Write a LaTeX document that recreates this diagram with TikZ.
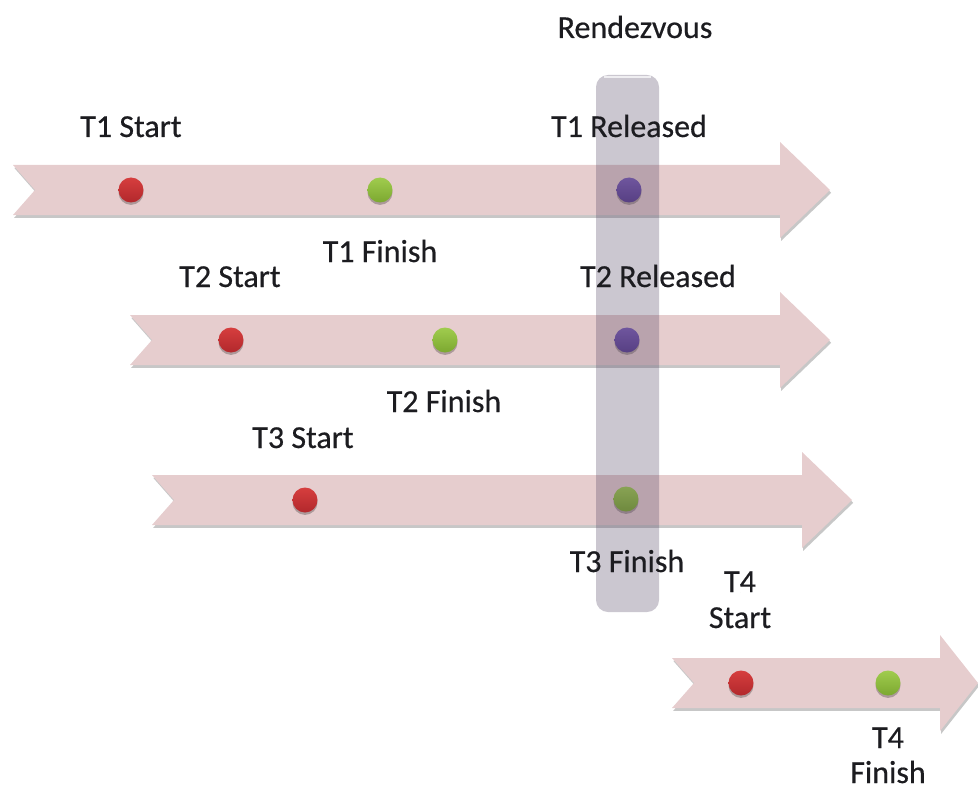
\documentclass[tikz,border=0pt]{standalone}
\usepackage{fontspec}
\setmainfont{Carlito}
\newfontfamily\lblfont{Carlito}[FakeBold=0.5]
\usetikzlibrary{shadows}
\definecolor{lanepink}{RGB}{230,205,206}
\definecolor{barshade}{RGB}{82,68,98}
\definecolor{textdark}{RGB}{28,28,32}
\definecolor{redtop}{RGB}{214,62,62}
\definecolor{redbot}{RGB}{178,40,44}
\definecolor{greentop}{RGB}{160,204,78}
\definecolor{greenbot}{RGB}{124,168,48}
\definecolor{purpletop}{RGB}{124,94,184}
\definecolor{purplebot}{RGB}{90,62,146}
% lane arrow: #1 left end, #2 end of shaft, #3 tip, #4 centre line
\newcommand{\lanearrow}[4]{%
  \fill[lane] (#1,#4-25) -- (#2,#4-25) -- (#2,#4-48) -- (#3,#4)
    -- (#2,#4+48) -- (#2,#4+25) -- (#1,#4+25) -- (#1+22,#4) -- cycle;}
\begin{document}
\begin{tikzpicture}[x=0.5pt,y=-0.5pt,
  lane/.style={fill=lanepink,
    drop shadow={shadow xshift=0.6pt,shadow yshift=-1.4pt,opacity=0.22,fill=black}},
  dot/.style={circle,minimum size=12.5pt,inner sep=0pt,
    drop shadow={shadow xshift=0pt,shadow yshift=-1.2pt,opacity=0.25,fill=black}},
  reddot/.style={dot,top color=redtop,bottom color=redbot},
  greendot/.style={dot,top color=greentop,bottom color=greenbot},
  purpledot/.style={dot,top color=purpletop,bottom color=purplebot},
  lbl/.style={font=\lblfont\fontsize{16}{19}\selectfont,text=textdark,inner sep=0pt,anchor=base},
  rendezvous/.style={fill=barshade,fill opacity=0.3,rounded corners=6pt}]
\useasboundingbox (0,0) rectangle (978,791);
\clip (0,0) rectangle (978,791);

% thread lanes
\lanearrow{13}{780}{830}{190}
\lanearrow{130}{780}{830}{340}
\lanearrow{152}{802}{852}{500}
\lanearrow{672}{940}{978}{683}

% events on each lane
\node[reddot]    (t1s) at (131,190) {};
\node[greendot]  (t1f) at (380,190) {};
\node[purpledot] (t1r) at (629,190) {};
\node[reddot]    (t2s) at (231,340) {};
\node[greendot]  (t2f) at (445,340) {};
\node[purpledot] (t2r) at (627,340) {};
\node[reddot]    (t3s) at (305,500) {};
\node[greendot]  (t3f) at (626,499) {};
\node[reddot]    (t4s) at (741,683) {};
\node[greendot]  (t4f) at (888,683) {};

% rendezvous bar across the lanes
\fill[rendezvous] (596,75) rectangle (659,612);
\draw[white,opacity=0.7,line width=1pt] (604,77) -- (651,77);

% labels
\node[lbl] (lrv)  at (635,38)  {Rendezvous};
\node[lbl] (l1s)  at (131,137) {T1 Start};
\node[lbl] (l1r)  at (629,137) {T1 Released};
\node[lbl] (l1f)  at (380,262) {T1 Finish};
\node[lbl] (l2s)  at (230,287) {T2 Start};
\node[lbl] (l2r)  at (658,287) {T2 Released};
\node[lbl] (l2f)  at (444,412) {T2 Finish};
\node[lbl] (l3s)  at (303,448) {T3 Start};
\node[lbl] (l3f)  at (627,572) {T3 Finish};
\node[lbl] (l4sa) at (740,592) {T4};
\node[lbl] (l4sb) at (740,628) {Start};
\node[lbl] (l4fa) at (888,748) {T4};
\node[lbl] (l4fb) at (888,783) {Finish};
\end{tikzpicture}
\end{document}
